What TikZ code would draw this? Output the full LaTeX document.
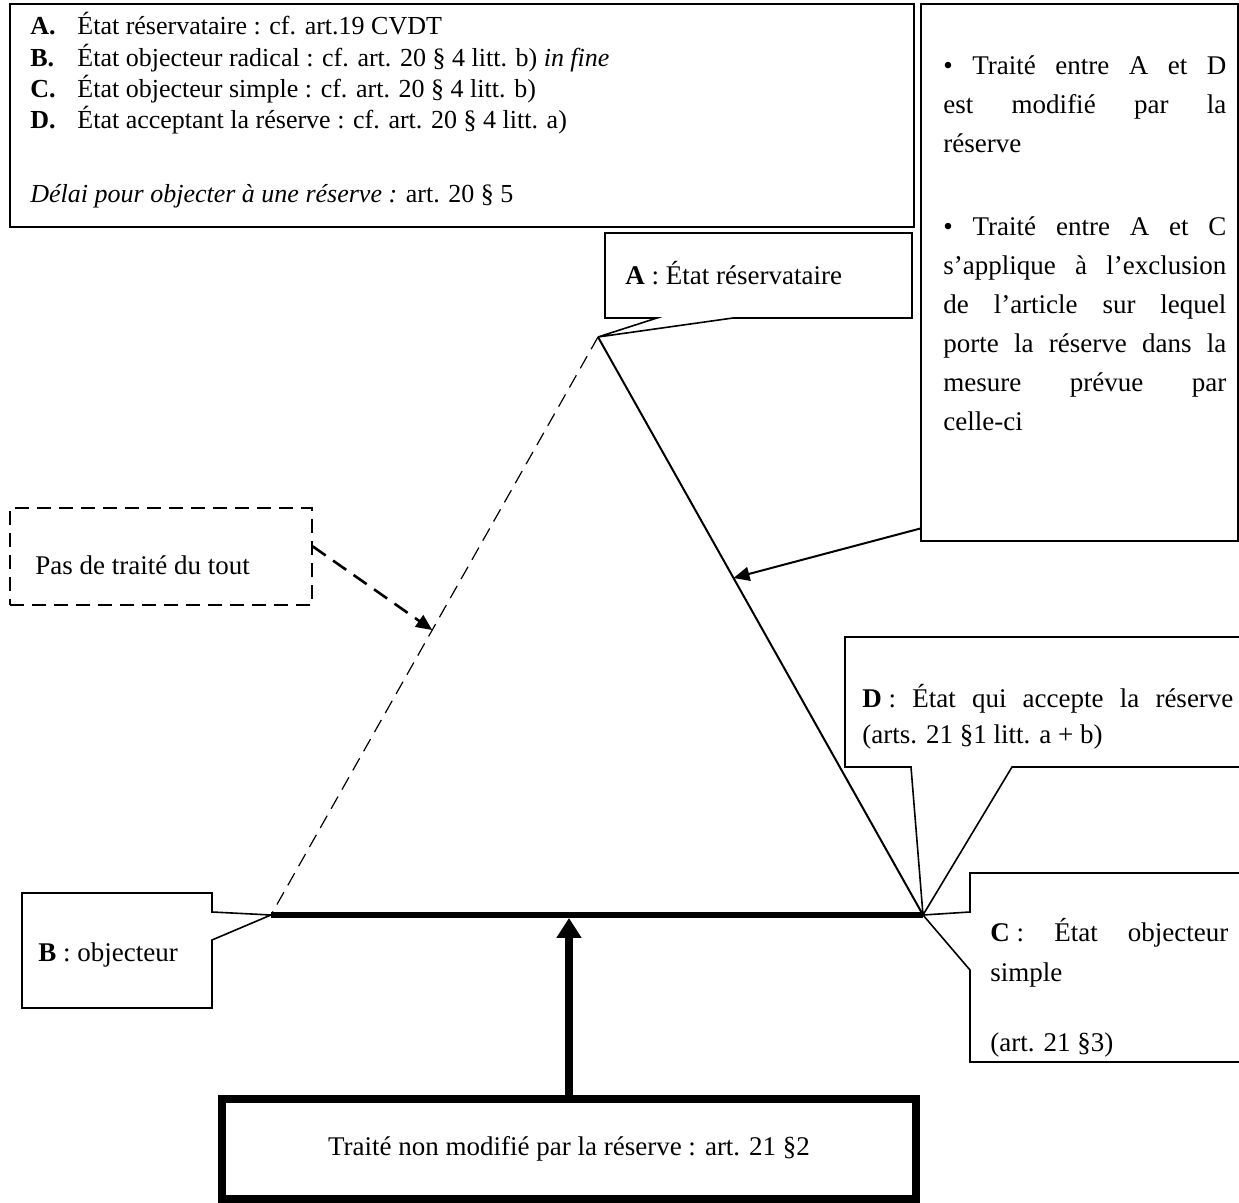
\documentclass[tikz,border=0pt]{standalone}
\usepackage{fontspec}
\setmainfont{Liberation Serif}
\usepackage{tikz}
\usetikzlibrary{arrows.meta,calc}

\tikzset{
	frame/.style={draw=black,line width=0.8pt},
	txt/.style={anchor=base west,inner sep=0pt,font=\fontsize{13.5}{14}\selectfont},
	jtxt/.style={txt,align=justify},
	conn/.style={draw=black,line width=1pt,-{Triangle[length=8pt,width=7pt]}},
	dashbox/.style={frame,dash pattern=on 7pt off 4pt},
}

\begin{document}
\begin{tikzpicture}[x=0.5pt,y=-0.5pt]
	\useasboundingbox (0,0) rectangle (1239,1203);
	\clip (0,0) rectangle (1239,1203);

	\coordinate (A) at (598,337);
	\coordinate (B) at (271,915);
	\coordinate (C) at (923,915);
	\coordinate (abmid) at ($(A)!0.507!(B)$);
	\coordinate (acmid) at ($(A)!0.417!(C)$);

	\node[frame,anchor=north west,minimum width=452pt,minimum height=111.5pt] (legend) at (9,3) {};
	\node[txt,font=\fontsize{13}{15}\selectfont] (legendtxt) at (30,35) {\begin{tabular}[t]{@{}p{23.5pt}@{}l@{}}
		\textbf{A.} & État réservataire : cf. art.19 CVDT\\
		\textbf{B.} & État objecteur radical : cf. art. 20 § 4 litt. b) \textit{in fine}\\
		\textbf{C.} & État objecteur simple : cf. art. 20 § 4 litt. b)\\
		\textbf{D.} & État acceptant la réserve : cf. art. 20 § 4 litt. a)\\[22pt]
		\multicolumn{2}{@{}l@{}}{\textit{Délai pour objecter à une réserve :} art. 20 § 5}
	\end{tabular}};

	\node[frame,anchor=north west,minimum width=158.5pt,minimum height=268.5pt] (notes) at (920,3) {};
	\node[jtxt,text width=141.5pt,font=\fontsize{13.5}{19.5}\selectfont] (notestxt) at (943,75)
		{\textbullet{} Traité entre A et D\linebreak est modifié par la\linebreak réserve\\[22pt]
		\textbullet{} Traité entre A et C\linebreak s’applique à l’exclusion\linebreak de l’article sur lequel\linebreak porte la réserve dans la\linebreak mesure prévue par\linebreak celle-ci};

	\draw[frame] (605,233) -- (912,233) -- (912,318) -- (733,318) -- (A) -- (657,318) -- (605,318) -- cycle;
	\node[txt] (lblA) at (625,285) {\textbf{A} : État réservataire};

	\draw[frame] (22,893) -- (212,893) -- (212,912) -- (B) -- (212,940) -- (212,1008) -- (22,1008) -- cycle;
	\node[txt] (lblB) at (38,962) {\textbf{B} : objecteur};

	\draw[frame] (845,637) -- (1250,637) -- (1250,767) -- (1012,767) -- (C) -- (911,767) -- (845,767) -- cycle;
	\node[jtxt,text width=185.5pt,font=\fontsize{13.5}{18}\selectfont] (lblD) at (862,708)
		{\mbox{\textbf{D} :} État qui accepte la réserve\linebreak (arts. 21 §1 litt. a + b)};

	\draw[frame] (970,873) -- (1250,873) -- (1250,1062) -- (970,1062) -- (970,970) -- (C) -- (970,912) -- cycle;
	\node[jtxt,text width=119pt,font=\fontsize{13.5}{20}\selectfont] (lblC) at (990,942)
		{\mbox{\textbf{C} :} État objecteur\linebreak simple\\[15pt] (art. 21 §3)};

	\node[dashbox,anchor=north west,minimum width=151pt,minimum height=48.5pt] (nopact) at (9,507) {};
	\node[txt] (nopacttxt) at (35,575) {Pas de traité du tout};

	\draw[line width=0.6pt,dash pattern=on 7pt off 4pt] (A) -- (B);
	\draw[line width=1pt] (A) -- (C);
	\draw[line width=3pt] (B) -- (C);

	\node[draw=black,line width=4pt,minimum width=347pt,minimum height=50pt,
		font=\fontsize{13.5}{14}\selectfont] (lowbox) at (569,1149)
		{Traité non modifié par la réserve : art. 21 §2};

	\draw[conn] ($(notes.south west)+(0,-13)$) -- (acmid);
	\draw[conn,line width=1.3pt,dash pattern=on 8pt off 4.5pt] ($(nopact.east)+(0,-10)$) -- (abmid);
	\draw[line width=4pt,-{Triangle[length=10pt,width=12pt]},shorten >=1.5pt] (lowbox.north) -- (lowbox.north |- B);
\end{tikzpicture}
\end{document}
